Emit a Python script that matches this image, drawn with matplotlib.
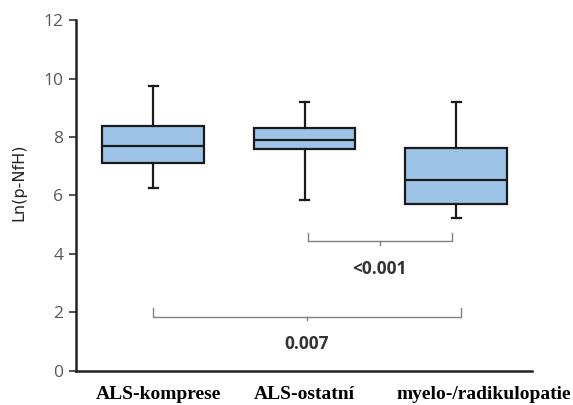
import numpy as np
import matplotlib
matplotlib.use("Agg")
import matplotlib.pyplot as plt
import matplotlib.transforms as mtransforms

# skupiny a hodnoty boxplotu
groups = ["ALS-komprese", "ALS-ostatní", "myelo-/radikulopatie"]
whislo = [6.27, 5.85, 5.22]
q1 = [7.11, 7.58, 5.71]
med = [7.69, 7.90, 6.53]
q3 = [8.39, 8.30, 7.63]
whishi = [9.74, 9.19, 9.19]

# p-hodnoty a dvojice skupin
pvals = ["<0.001", "0.007"]
pairs = [(2.02, 2.97), (1.0, 3.03)]
bracket_y = [4.44, 1.86]

stats = []
for i in range(len(groups)):
    stats.append({"whislo": whislo[i], "q1": q1[i], "med": med[i],
                  "q3": q3[i], "whishi": whishi[i], "fliers": []})

fig = plt.figure(figsize=(5.73, 4.05), dpi=100)
ax = fig.add_axes([0.1326, 0.084, 0.7958, 0.8666])

pos = np.arange(1, len(groups) + 1)
ax.bxp(stats, positions=pos, widths=0.67, patch_artist=True, showfliers=False,
       boxprops=dict(facecolor="#9DC3E6", edgecolor="#1a1a1a", linewidth=1.6),
       medianprops=dict(color="#1a1a1a", linewidth=1.6),
       whiskerprops=dict(color="#1a1a1a", linewidth=1.6),
       capprops=dict(color="#1a1a1a", linewidth=1.6), capwidths=0.06)

# závorky s p-hodnotami
for (a, b), y, p in zip(pairs, bracket_y, pvals):
    h = 0.29
    mid = (a + b) / 2
    ax.plot([a, a, b, b], [y + h, y, y, y + h], color="#808080", lw=1.0)
    ax.plot([mid, mid], [y, y - 0.13], color="#808080", lw=1.0)
    ax.text(mid, y - 0.95, p, ha="center", va="center", fontsize=12.5,
            fontweight="bold", color="#333333", family="Open Sans")

ax.set_xlim(0.49, 3.5)
ax.set_ylim(0, 12)
ax.set_yticks(np.arange(0, 13, 2))
ax.set_xticks(pos)
ax.set_xticklabels(groups, family="Liberation Serif", fontweight="bold",
                   fontsize=14, color="black")
ax.tick_params(axis="x", length=0, pad=11)
ax.tick_params(axis="y", length=5, width=1.2, color="#333333", labelsize=12.5,
               labelcolor="#595959", pad=4)
for lab in ax.get_yticklabels():
    lab.set_family("Open Sans")

# posun popisků kategorií jako v originále
shifts = [5, 0, 28]
for lab, dx in zip(ax.get_xticklabels(), shifts):
    lab.set_transform(lab.get_transform() +
                      mtransforms.ScaledTranslation(dx / 100, 0, fig.dpi_scale_trans))

ax.set_ylabel("Ln(p-NfH)", fontsize=11.5, family="DejaVu Sans", color="#222222")
ax.yaxis.set_label_coords(-0.108, 0.538)
ax.spines["top"].set_visible(False)
ax.spines["right"].set_visible(False)
ax.spines["left"].set_linewidth(1.8)
ax.spines["bottom"].set_linewidth(1.8)
ax.spines["left"].set_color("#222222")
ax.spines["bottom"].set_color("#222222")

fig.savefig("out.png", dpi=100)
